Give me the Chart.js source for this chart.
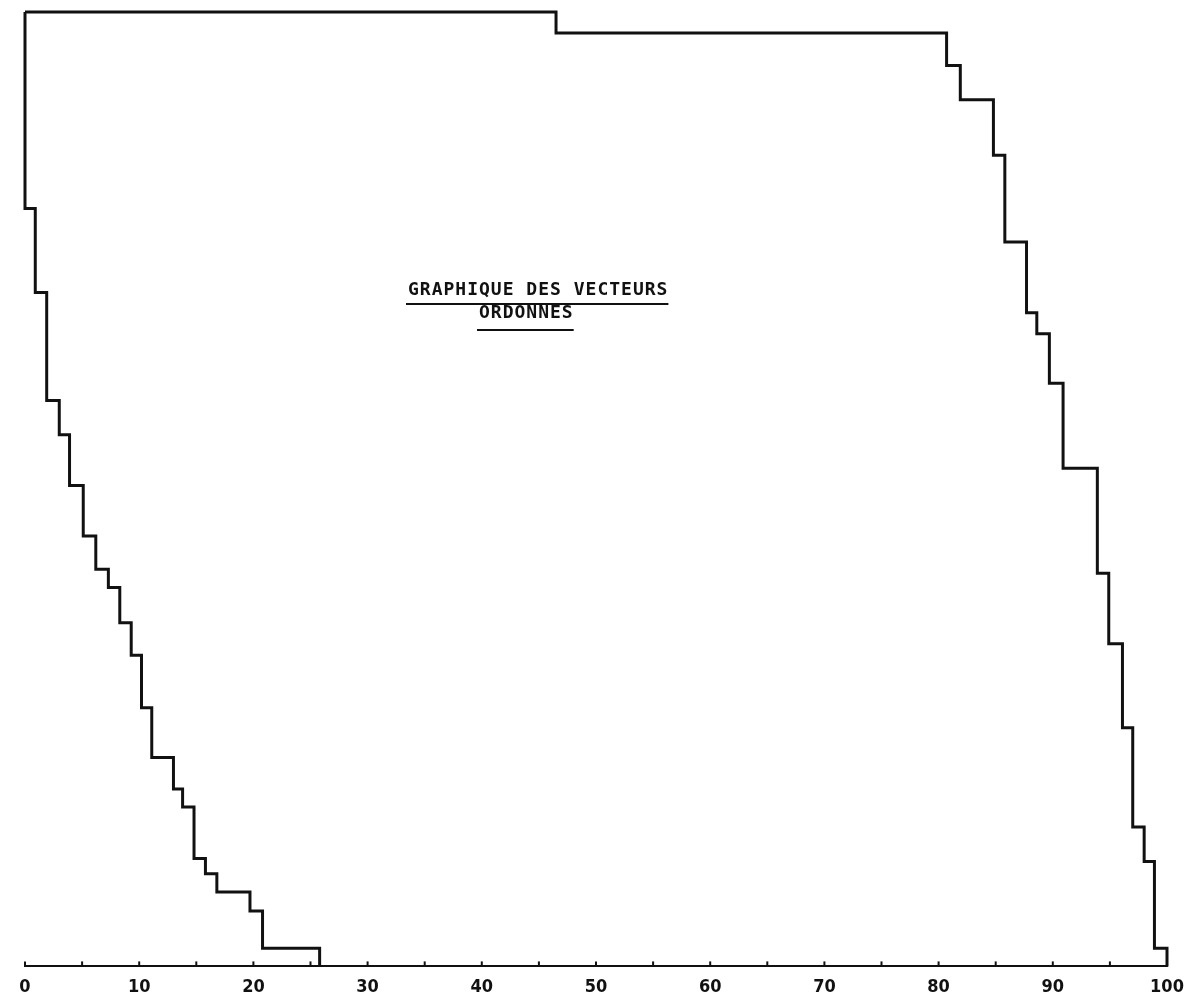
<!DOCTYPE html>
<html>
<head>
<meta charset="utf-8">
<title>Graphique des vecteurs ordonnes</title>
<script src="https://cdn.jsdelivr.net/npm/chart.js@4"></script>
<style>
  html, body { margin: 0; padding: 0; background: #fff; }
  #wrap { width: 1185px; height: 1002px; }
</style>
</head>
<body>
<div id="wrap"><canvas id="chart"></canvas></div>
<script>
// x axis ticks (every 5, labels every 10)
const xTicks = [0, 5, 10, 15, 20, 25, 30, 35, 40, 45, 50, 55, 60, 65, 70, 75, 80, 85, 90, 95, 100];
const xLabels = ["0", "10", "20", "30", "40", "50", "60", "70", "80", "90", "100"];

// left staircase: start of each step and its level
const leftX = [0, 0, 0.9, 1.9, 3.0, 3.9, 5.1, 6.2, 7.3, 8.3, 9.3, 10.2, 11.1, 13.0, 13.8, 14.8, 15.8, 16.8, 19.7, 20.8, 25.8];
const leftY = [100, 79.4, 70.6, 59.3, 55.7, 50.4, 45.1, 41.6, 39.7, 36.0, 32.6, 27.1, 21.9, 18.6, 16.7, 11.3, 9.7, 7.8, 5.8, 1.9, 0];

// right staircase
const rightX = [0, 46.5, 80.7, 81.9, 84.8, 85.8, 87.7, 88.6, 89.7, 90.9, 93.9, 94.9, 96.1, 97.0, 98.0, 98.9, 100];
const rightY = [100, 97.8, 94.4, 90.8, 85.0, 75.9, 68.5, 66.3, 61.1, 52.2, 41.2, 33.8, 25.0, 14.6, 11.0, 1.9, 0];

const titleLines = ["GRAPHIQUE DES VECTEURS", "ORDONNES"];

const ink = "#111";

const toPoints = (xs, ys) => xs.map((x, i) => ({ x: x, y: ys[i] }));

// small upward tick marks on the axis line
const upTicks = {
  id: "upTicks",
  afterDraw(chart) {
    const ctx = chart.ctx;
    const sx = chart.scales.x;
    const base = chart.chartArea.bottom;
    ctx.save();
    ctx.strokeStyle = ink;
    ctx.lineWidth = 2;
    xTicks.forEach((v) => {
      const px = sx.getPixelForValue(v);
      ctx.beginPath();
      ctx.moveTo(px, base);
      ctx.lineTo(px, base - 5);
      ctx.stroke();
    });
    ctx.restore();
  },
};

// typed title in the middle, underlined
const typedTitle = {
  id: "typedTitle",
  afterDraw(chart) {
    const ctx = chart.ctx;
    ctx.save();
    ctx.fillStyle = ink;
    ctx.strokeStyle = ink;
    ctx.font = "bold 18px 'DejaVu Sans Mono'";
    ctx.letterSpacing = "1px";
    ctx.textBaseline = "alphabetic";
    ctx.textAlign = "left";
    const starts = [408, 479];
    const bases = [295, 318];
    const unders = [304, 330];
    titleLines.forEach((t, i) => {
      ctx.fillText(t, starts[i], bases[i]);
      const w = ctx.measureText(t).width;
      ctx.lineWidth = 2;
      ctx.beginPath();
      ctx.moveTo(starts[i] - 2, unders[i]);
      ctx.lineTo(starts[i] + w, unders[i]);
      ctx.stroke();
    });
    ctx.restore();
  },
};

new Chart(document.getElementById("chart"), {
  type: "line",
  data: {
    datasets: [
      {
        label: "gauche",
        data: toPoints(leftX, leftY),
        stepped: "before",
        borderColor: ink,
        borderWidth: 3,
        pointRadius: 0,
        fill: false,
        clip: 6,
      },
      {
        label: "droite",
        data: toPoints(rightX, rightY),
        stepped: "before",
        borderColor: ink,
        borderWidth: 3,
        pointRadius: 0,
        fill: false,
        clip: 6,
      },
    ],
  },
  options: {
    responsive: true,
    maintainAspectRatio: false,
    animation: false,
    layout: {
      padding: { left: 25, right: 18, top: 12, bottom: -6 },
    },
    plugins: {
      legend: { display: false },
      tooltip: { enabled: false },
      title: { display: false },
    },
    scales: {
      x: {
        type: "linear",
        min: 0,
        max: 100,
        grid: { display: false, drawTicks: false },
        border: { display: true, color: ink, width: 2 },
        afterBuildTicks: (axis) => {
          axis.ticks = xTicks.map((v) => ({ value: v }));
        },
        // let the "100" label hang past the plot edge like the original
        afterFit: (axis) => {
          axis.paddingRight = 0;
          axis.paddingLeft = 0;
        },
        ticks: {
          autoSkip: false,
          maxRotation: 0,
          padding: 10,
          color: ink,
          font: { family: "'DejaVu Sans Condensed', Roboto, sans-serif", size: 18, weight: "bold" },
          callback: (v) => (v % 10 === 0 ? xLabels[v / 10] : ""),
        },
      },
      y: {
        display: false,
        min: 0,
        max: 100,
      },
    },
  },
  plugins: [upTicks, typedTitle],
});
</script>
</body>
</html>
